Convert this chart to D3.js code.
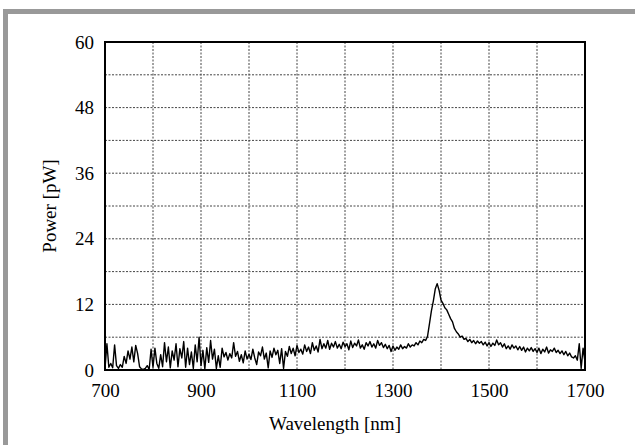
<!DOCTYPE html>
<html><head><meta charset="utf-8">
<script src="https://cdn.jsdelivr.net/npm/d3@7"></script>
<style>html,body{margin:0;padding:0;background:#fff;}svg{display:block;}
svg text{font-family:"Liberation Serif","Times New Roman",Times,serif !important;}</style>
</head><body>
<script>
// Data: power [pW] sampled every 4 nm from 700 to 1700 nm
const wlStart = 700, wlStep = 4;
const power = [
0.3,
4.8,0.5,1.2,0.4,4.6,0.8,0.3,1.0,0.5,2.5,1.2,3.5,2.0,4.2,1.5,4.5,3.0,0.6,0.2,0.1,0.3,0.8,0.1,3.8,0.5,
4.0,1.2,0.3,2.8,0.6,5.0,1.5,4.2,0.4,3.5,1.8,4.8,0.6,3.9,2.2,5.2,0.5,4.0,1.0,3.3,0.3,4.6,1.5,6.0,0.8,
3.6,0.2,4.1,1.4,5.4,2.0,3.8,0.3,2.6,0.5,4.0,2.4,3.2,1.8,3.0,2.2,5.0,2.5,3.4,1.6,2.8,1.3,3.5,2.0,2.9,
1.9,3.8,2.2,1.0,3.3,2.6,4.2,2.0,3.1,0.4,3.5,2.3,4.0,2.8,3.6,1.2,3.9,0.3,3.4,2.5,4.3,3.0,4.0,2.6,4.5,
3.2,3.8,2.9,4.6,3.4,4.2,3.0,5.0,3.6,4.4,3.3,5.6,3.9,4.8,4.0,5.4,3.8,4.9,4.2,5.2,4.0,4.7,3.9,5.1,4.3,
4.8,3.7,5.3,4.1,4.9,4.4,5.5,4.0,4.6,3.8,5.0,4.4,5.2,4.2,4.8,4.0,5.4,4.5,5.0,4.1,4.7,3.9,4.5,3.4,4.4,
3.6,4.2,3.8,4.6,3.9,4.3,4.0,4.8,4.2,4.6,4.4,5.0,4.6,5.3,5.0,5.6,5.4,6.2,8.5,10.8,12.6,14.8,15.8,14.6,12.8,
12.2,11.4,11.0,10.2,9.4,8.8,7.6,7.0,6.6,6.0,6.2,5.6,5.8,5.2,5.6,5.0,5.4,4.8,5.3,4.9,5.2,4.6,5.1,4.4,5.0,
4.3,4.9,4.5,5.5,4.6,5.0,4.2,4.8,3.9,4.4,3.8,4.6,4.0,4.4,3.7,4.3,3.6,4.2,3.3,4.0,3.5,4.1,3.4,3.9,3.2,
4.0,3.0,3.8,3.3,4.2,3.1,3.7,3.4,4.0,3.2,3.6,3.0,3.5,2.8,3.4,2.6,3.1,2.4,2.2,2.6,1.8,4.8,0.3,4.0,1.5
];
const xTickLabels = [700, 900, 1100, 1300, 1500, 1700];
const yTickLabels = [0, 12, 24, 36, 48, 60];
const xGrid = [800, 900, 1000, 1100, 1200, 1300, 1400, 1500, 1600];
const yGrid = [6, 12, 18, 24, 30, 36, 42, 48, 54];
const xTitle = "Wavelength [nm]";
const yTitle = "Power [pW]";

const W = 635, H = 445;
const mL = 105, mR = 585, mT = 42, mB = 370;

const svg = d3.select("body").append("svg").attr("width", W).attr("height", H);
// outer frame (gray)
svg.append("rect").attr("x", 3).attr("y", 9).attr("width", W - 3).attr("height", 5).attr("fill", "#999");
svg.append("rect").attr("x", 3).attr("y", 9).attr("width", 5).attr("height", H - 9).attr("fill", "#999");

const x = d3.scaleLinear().domain([700, 1700]).range([mL, mR]);
const y = d3.scaleLinear().domain([0, 60]).range([mB, mT]);

// grid
const g = svg.append("g");
g.selectAll("line.vg").data(xGrid).join("line")
  .attr("x1", d => x(d)).attr("x2", d => x(d)).attr("y1", mT).attr("y2", mB)
  .attr("stroke", "#444").attr("stroke-width", 1).attr("stroke-dasharray", "2,1.5");
g.selectAll("line.hg").data(yGrid).join("line")
  .attr("y1", d => y(d)).attr("y2", d => y(d)).attr("x1", mL).attr("x2", mR)
  .attr("stroke", "#444").attr("stroke-width", 1).attr("stroke-dasharray", "2,1.5");

// data line
const data = power.map((v, i) => ({w: wlStart + i * wlStep, p: v}));
const line = d3.line().x(d => x(d.w)).y(d => y(d.p));
svg.append("path").datum(data).attr("d", line)
  .attr("fill", "none").attr("stroke", "#000").attr("stroke-width", 1.4).attr("stroke-linejoin", "round");

// frame
svg.append("rect").attr("x", mL).attr("y", mT).attr("width", mR - mL).attr("height", mB - mT)
  .attr("fill", "none").attr("stroke", "#000").attr("stroke-width", 2);

// axes (labels only)
const xAxis = d3.axisBottom(x).tickValues(xTickLabels).tickFormat(d3.format("d")).tickSize(0).tickPadding(14);
const gx = svg.append("g").attr("transform", `translate(0,${mB})`).call(xAxis);
gx.select(".domain").remove();
gx.selectAll("text").attr("font-size", 19).attr("fill", "#000");

const yAxis = d3.axisLeft(y).tickValues(yTickLabels).tickFormat(d3.format("d")).tickSize(0).tickPadding(11);
const gy = svg.append("g").attr("transform", `translate(${mL},0)`).call(yAxis);
gy.select(".domain").remove();
gy.selectAll("text").attr("font-size", 19).attr("fill", "#000");

svg.append("text").attr("x", (mL + mR) / 2 - 10).attr("y", 430)
  .attr("text-anchor", "middle").attr("font-size", 19).text(xTitle);
svg.append("text").attr("transform", `translate(56,${(mT + mB) / 2}) rotate(-90)`)
  .attr("text-anchor", "middle").attr("font-size", 19).text(yTitle);
</script>
</body></html>
